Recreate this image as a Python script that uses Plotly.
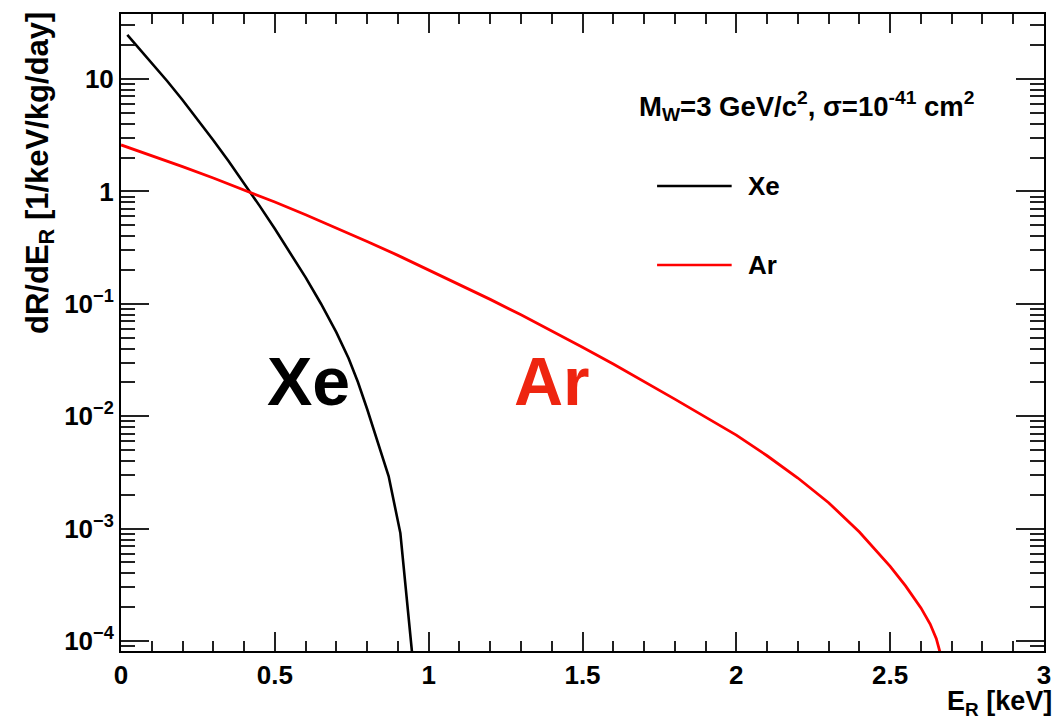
import plotly.graph_objects as go

# ---- data ----
xe_E = [0.0205, 0.05, 0.1, 0.15, 0.2, 0.25, 0.3, 0.35, 0.4, 0.45, 0.5, 0.55, 0.6, 0.65,
        0.7, 0.74, 0.77, 0.8, 0.835, 0.87, 0.908, 0.945, 0.96]
xe_rate = [24.7, 20.0, 14.0, 9.61, 6.51, 4.35, 2.86, 1.856, 1.187, 0.748, 0.465, 0.285, 0.172, 0.1002,
           0.0557, 0.03266, 0.02014, 0.01159, 0.00585, 0.00292, 0.000912, 8.3e-5, 3.2e-5]

ar_E = [0.0, 0.1, 0.2, 0.3, 0.4, 0.5, 0.6, 0.7, 0.8, 0.9, 1.0, 1.1, 1.2, 1.3, 1.4, 1.5, 1.6, 1.7,
        1.8, 1.9, 2.0, 2.1, 2.2, 2.3, 2.4, 2.5, 2.55, 2.6, 2.63, 2.65, 2.67]
ar_rate = [2.594, 2.084, 1.663, 1.318, 1.035, 0.805, 0.621, 0.474, 0.359, 0.270, 0.201, 0.149, 0.1096,
           0.0798, 0.0575, 0.0411, 0.0291, 0.0204, 0.01419, 0.00982, 0.00679, 0.00445, 0.00282,
           0.00170, 0.000933, 0.000462, 0.000309, 0.000197, 0.0001416, 0.000105, 6.6e-5]

y_tickvals = [1e-4, 1e-3, 1e-2, 1e-1, 1, 10]
y_ticktext = ["10<sup>−4</sup>", "10<sup>−3</sup>", "10<sup>−2</sup>", "10<sup>−1</sup>", "1", "10"]
y_minor = [m * 10.0 ** d for d in range(-5, 2) for m in range(2, 10)]

X_RANGE = [0, 3]
Y_RANGE = [-4.089, 1.579]  # log10 units

FONT = "Liberation Sans"
RED = "#ff0000"
TICKW = 2
TICKC = "#222222"

fig = go.Figure()
fig.add_trace(go.Scatter(x=xe_E, y=xe_rate, mode="lines", name="Xe",
                         line=dict(color="black", width=2.6), showlegend=False))
fig.add_trace(go.Scatter(x=ar_E, y=ar_rate, mode="lines", name="Ar",
                         line=dict(color=RED, width=2.8), showlegend=False))
# empty trace so the overlay (minor-tick) axes are rendered
fig.add_trace(go.Scatter(x=[], y=[], xaxis="x2", yaxis="y2", showlegend=False, hoverinfo="skip"))

fig.update_layout(
    width=1063, height=717,
    margin=dict(l=121, r=14, t=14, b=66),
    paper_bgcolor="white", plot_bgcolor="white",
    font=dict(family=FONT, color="black"),
    xaxis=dict(
        range=X_RANGE, dtick=0.5, tick0=0,
        ticks="inside", ticklen=19, tickwidth=TICKW, tickcolor=TICKC,
        showline=True, linecolor="black", linewidth=2, mirror="allticks",
        showgrid=False, zeroline=False,
        tickfont=dict(family=FONT, size=26, weight="bold", color="black"),
    ),
    yaxis=dict(
        type="log", range=Y_RANGE,
        tickmode="array", tickvals=y_tickvals, ticktext=y_ticktext,
        ticks="inside", ticklen=28, tickwidth=TICKW, tickcolor=TICKC,
        showline=True, linecolor="black", linewidth=2, mirror="allticks",
        showgrid=False, zeroline=False,
        tickfont=dict(family=FONT, size=26, weight="bold", color="black"),
    ),
    xaxis2=dict(
        overlaying="x", anchor="y", range=X_RANGE, dtick=0.1, tick0=0,
        ticks="inside", ticklen=10, tickwidth=TICKW, tickcolor=TICKC,
        showticklabels=False, showline=False, mirror="allticks",
        showgrid=False, zeroline=False,
    ),
    yaxis2=dict(
        overlaying="y", anchor="x", type="log", range=Y_RANGE,
        tickmode="array", tickvals=y_minor,
        ticks="inside", ticklen=14, tickwidth=TICKW, tickcolor=TICKC,
        showticklabels=False, showline=False, mirror="allticks",
        showgrid=False, zeroline=False,
    ),
)

ann = []
# axis titles
ann.append(dict(text="E<sub>R</sub> [keV]", xref="paper", yref="paper", x=1.011, y=-0.052,
                xanchor="right", yanchor="top", showarrow=False,
                font=dict(family=FONT, size=27, weight="bold", color="black")))
ann.append(dict(text="dR/dE<sub>R</sub> [1/keV/kg/day]", xref="paper", yref="paper",
                x=-0.088, y=1.006, xanchor="center", yanchor="top", textangle=-90,
                showarrow=False, font=dict(family=FONT, size=31, weight="bold", color="black")))
# header text
ann.append(dict(text="M<sub>W</sub>=3 GeV/c<sup>2</sup>, σ=10<sup>-41</sup> cm<sup>2</sup>",
                xref="paper", yref="paper", x=0.559, y=0.855, xanchor="left", yanchor="middle",
                showarrow=False, font=dict(family=FONT, size=27.5, weight="bold", color="black")))
# legend entries
for name, color, yp in [("Xe", "black", 0.730), ("Ar", RED, 0.606)]:
    fig.add_shape(type="line", xref="paper", yref="paper", x0=0.5808, x1=0.6616, y0=yp, y1=yp,
                  line=dict(color=color, width=2.6))
    ann.append(dict(text=name, xref="paper", yref="paper", x=0.677, y=yp, xanchor="left",
                    yanchor="middle", showarrow=False,
                    font=dict(family=FONT, size=26, weight="bold", color="black")))
# big labels
ann.append(dict(text="Xe", xref="x", yref="paper", x=0.611, y=0.424, xanchor="center", yanchor="middle",
                showarrow=False, font=dict(family=FONT, size=68, weight="bold", color="black")))
ann.append(dict(text="Ar", xref="x", yref="paper", x=1.40, y=0.424, xanchor="center", yanchor="middle",
                showarrow=False, font=dict(family=FONT, size=68, weight="bold", color="#ee2510")))
fig.update_layout(annotations=ann)

fig.write_html("out.html")
